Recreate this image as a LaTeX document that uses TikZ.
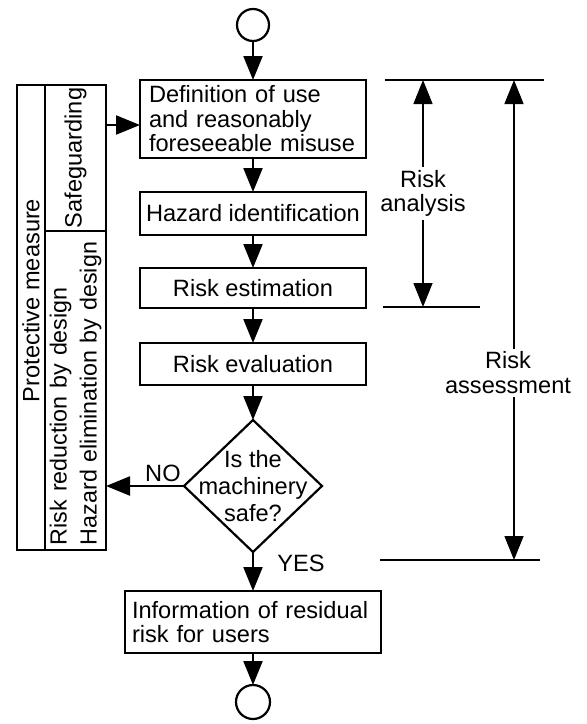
\documentclass[tikz,border=0pt]{standalone}
\usepackage{fontspec}
\setmainfont{Liberation Sans}
\usetikzlibrary{arrows.meta,shapes.geometric,positioning}

\begin{document}
\begin{tikzpicture}[->,>={Triangle[length=24pt,width=19pt]},x=1pt,y=-1pt,
    node distance=34pt,line width=2.2pt,font=\fontsize{23.6pt}{24.5pt}\selectfont]
  \tikzstyle{terminal}=[circle,draw,minimum size=32pt,inner sep=0pt,outer sep=0pt]
  \tikzstyle{process}=[rectangle,draw,minimum width=226pt,inner xsep=5pt,outer sep=0pt]
  \tikzstyle{decision}=[diamond,draw,minimum width=138pt,minimum height=132pt,inner sep=0pt,outer sep=0pt]
  \tikzstyle{column}=[rectangle,draw,rotate=90,inner sep=0pt,outer sep=0pt]
  \tikzstyle{bound line}=[-,line width=1.5pt]
  \tikzstyle{span arrow}=[<->,line width=1.5pt]

  \useasboundingbox (0,0) rectangle (587,724);

  % main flow
  \node[terminal]                (start) at (253,25)              {};
  \node[process,text width=208pt,inner xsep=9pt,minimum height=78pt,align=left]
                                 (define)   [below=39pt of start] {Definition of use\\and reasonably\\foreseeable misuse};
  \node[process,minimum height=43pt] (identify) [below=of define]  {Hazard identification};
  \node[process,minimum height=40pt] (estimate) [below=33pt of identify] {Risk estimation};
  \node[process,minimum height=42pt] (evaluate) [below=35pt of estimate] {Risk evaluation};
  \node[decision,label={[align=center,font=\fontsize{23.6pt}{27pt}\selectfont]center:Is the\\machinery\\safe?}]
                                 (safe)     [below=35pt of evaluate] {};
  \node[process,text width=242pt,inner xsep=7pt,minimum height=62pt,align=left]
                                 (inform)   [below=39pt of safe]  {Information of residual\\risk for users};
  \node[terminal,minimum size=34pt] (stop)  [below=32pt of inform] {};

  % protective measures
  \node[column,minimum width=465pt,minimum height=28pt] (measure) at (31,317.5) {\hspace*{34pt}Protective measure};
  \node[column,minimum width=146pt,minimum height=61pt] (guard) at (75.5,158) {Safeguarding};
  \node[column,minimum height=61pt,text width=309pt,inner xsep=5pt,align=left,
        font=\fontsize{23.3pt}{30pt}\selectfont] (design) at (75.5,390.5)
        {Risk reduction by design\\Hazard elimination by design};

  \path (start) edge (define)
        (define) edge (identify)
        (identify) edge (estimate)
        (estimate) edge (evaluate)
        (evaluate) edge (safe)
        (safe) edge node[pos=0.3,right,xshift=20pt] {YES} (inform)
        (inform) edge (stop);
  \path (safe.west) edge node[pos=0.27,above] {NO} (safe.west -| design.south);

  \coordinate (guardout) at (106,125);
  \draw (guardout) -- (guardout -| define.west);

  % risk ranges
  \coordinate (top1) at (385,80);   \coordinate (top2) at (544,80);
  \coordinate (mid1) at (383,307);  \coordinate (mid2) at (480,307);
  \coordinate (bot1) at (380,560);  \coordinate (bot2) at (540,560);
  \draw[bound line] (top1) -- (top2);
  \draw[bound line] (mid1) -- (mid2);
  \draw[bound line] (bot1) -- (bot2);

  \coordinate (analysistop) at (423,80);  \coordinate (analysisbot) at (423,307);
  \coordinate (assesstop)   at (514,80);  \coordinate (assessbot)   at (514,560);
  \draw[span arrow] (analysistop) -- node[fill=white,align=center] {Risk\\analysis} (analysisbot);
  \draw[span arrow] (assesstop) -- node[pos=0.61,fill=white,align=center,xshift=-6pt] {Risk\\assessment} (assessbot);
\end{tikzpicture}
\end{document}
